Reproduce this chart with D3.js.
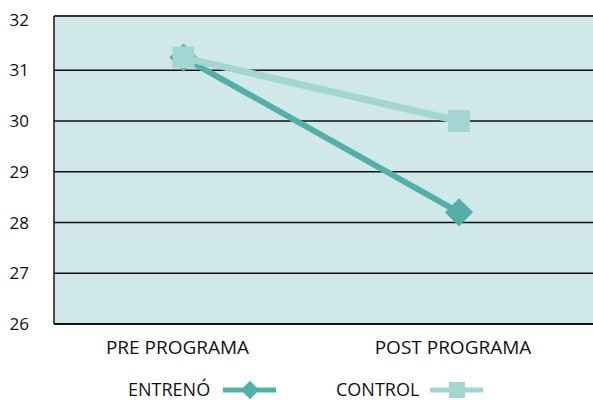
<!DOCTYPE html>
<html>
<head>
<meta charset="utf-8">
<script src="https://cdn.jsdelivr.net/npm/d3@7"></script>
<style>
  body { margin: 0; background: #fff; }
  text { font-family: "Open Sans", "Liberation Sans", sans-serif; fill: #111; }
</style>
</head>
<body>
<div id="chart"></div>
<script>
// data
var categories = ["PRE PROGRAMA", "POST PROGRAMA"];
var entrenoValues = [31.25, 28.2];
var controlValues = [31.25, 30.0];
var yTicks = [26, 27, 28, 29, 30, 31, 32];
var seriesNames = ["ENTRENÓ", "CONTROL"];

var width = 593, height = 400;
var plotLeft = 54, plotRight = 593, plotTop = 16, plotBottom = 324;

var svg = d3.select("#chart").append("svg")
    .attr("width", width)
    .attr("height", height);

var xScale = d3.scalePoint()
    .domain(categories)
    .range([183.5, 459]);

var yScale = d3.scaleLinear()
    .domain([26, 32])
    .range([plotBottom, 19.5]);

// plot background
svg.append("rect")
    .attr("x", plotLeft).attr("y", plotTop)
    .attr("width", plotRight - plotLeft).attr("height", plotBottom - plotTop)
    .attr("fill", "#d1e8e8");

// gridlines
svg.append("g").selectAll("line")
    .data(yTicks.filter(function(d) { return d > 26 && d < 32; }))
    .join("line")
    .attr("x1", plotLeft).attr("x2", plotRight)
    .attr("y1", function(d) { return yScale(d); })
    .attr("y2", function(d) { return yScale(d); })
    .attr("stroke", "#111")
    .attr("stroke-width", 1.5);

// frame
svg.append("line")
    .attr("x1", plotLeft).attr("x2", plotRight).attr("y1", plotTop).attr("y2", plotTop)
    .attr("stroke", "#333").attr("stroke-width", 2);
svg.append("line")
    .attr("x1", plotLeft).attr("x2", plotLeft).attr("y1", plotTop).attr("y2", plotBottom)
    .attr("stroke", "#111").attr("stroke-width", 1.5);
svg.append("line")
    .attr("x1", plotLeft).attr("x2", plotRight).attr("y1", plotBottom).attr("y2", plotBottom)
    .attr("stroke", "#111").attr("stroke-width", 2);

// y tick labels
svg.append("g").selectAll("text")
    .data(yTicks)
    .join("text")
    .attr("x", 29)
    .attr("y", function(d) { return yScale(d); })
    .attr("dy", "0.36em")
    .attr("text-anchor", "end")
    .style("font-size", "17px")
    .text(function(d) { return d; });

// x labels
svg.append("g").selectAll("text")
    .data(categories)
    .join("text")
    .attr("x", function(d) { return xScale(d) - 6; })
    .attr("y", 354)
    .attr("text-anchor", "middle")
    .style("font-size", "19px")
    .text(function(d) { return d; });

var line = d3.line()
    .x(function(d, i) { return xScale(categories[i]); })
    .y(function(d) { return yScale(d); });

var colEntreno = "#52b0a9";
var colControl = "#a3d5d3";

// entrenó series
svg.append("path")
    .datum(entrenoValues)
    .attr("d", line)
    .attr("fill", "none")
    .attr("stroke", colEntreno)
    .attr("stroke-width", 6);

svg.append("g").selectAll("path")
    .data(entrenoValues)
    .join("path")
    .attr("d", d3.symbol().type(d3.symbolSquare).size(400))
    .attr("transform", function(d, i) {
        return "translate(" + xScale(categories[i]) + "," + yScale(d) + ") rotate(45)";
    })
    .attr("fill", colEntreno);

// control series
svg.append("path")
    .datum(controlValues)
    .attr("d", line)
    .attr("fill", "none")
    .attr("stroke", colControl)
    .attr("stroke-width", 7);

svg.append("g").selectAll("rect")
    .data(controlValues)
    .join("rect")
    .attr("x", function(d, i) { return xScale(categories[i]) - 11; })
    .attr("y", function(d) { return yScale(d) - 11; })
    .attr("width", 22).attr("height", 22)
    .attr("fill", colControl);

// legend
var legend = svg.append("g");
legend.append("text").attr("x", 128).attr("y", 396).style("font-size", "18px")
    .text(seriesNames[0]);
legend.append("line").attr("x1", 223).attr("x2", 276).attr("y1", 390).attr("y2", 390)
    .attr("stroke", colEntreno).attr("stroke-width", 5);
legend.append("rect").attr("x", -6.5).attr("y", -6.5).attr("width", 13).attr("height", 13)
    .attr("transform", "translate(250,390) rotate(45)")
    .attr("fill", colEntreno);

legend.append("text").attr("x", 336).attr("y", 396).style("font-size", "18px")
    .text(seriesNames[1]);
legend.append("line").attr("x1", 430).attr("x2", 483).attr("y1", 390).attr("y2", 390)
    .attr("stroke", colControl).attr("stroke-width", 5);
legend.append("rect").attr("x", 449).attr("y", 382).attr("width", 16).attr("height", 16)
    .attr("fill", colControl);
</script>
</body>
</html>
